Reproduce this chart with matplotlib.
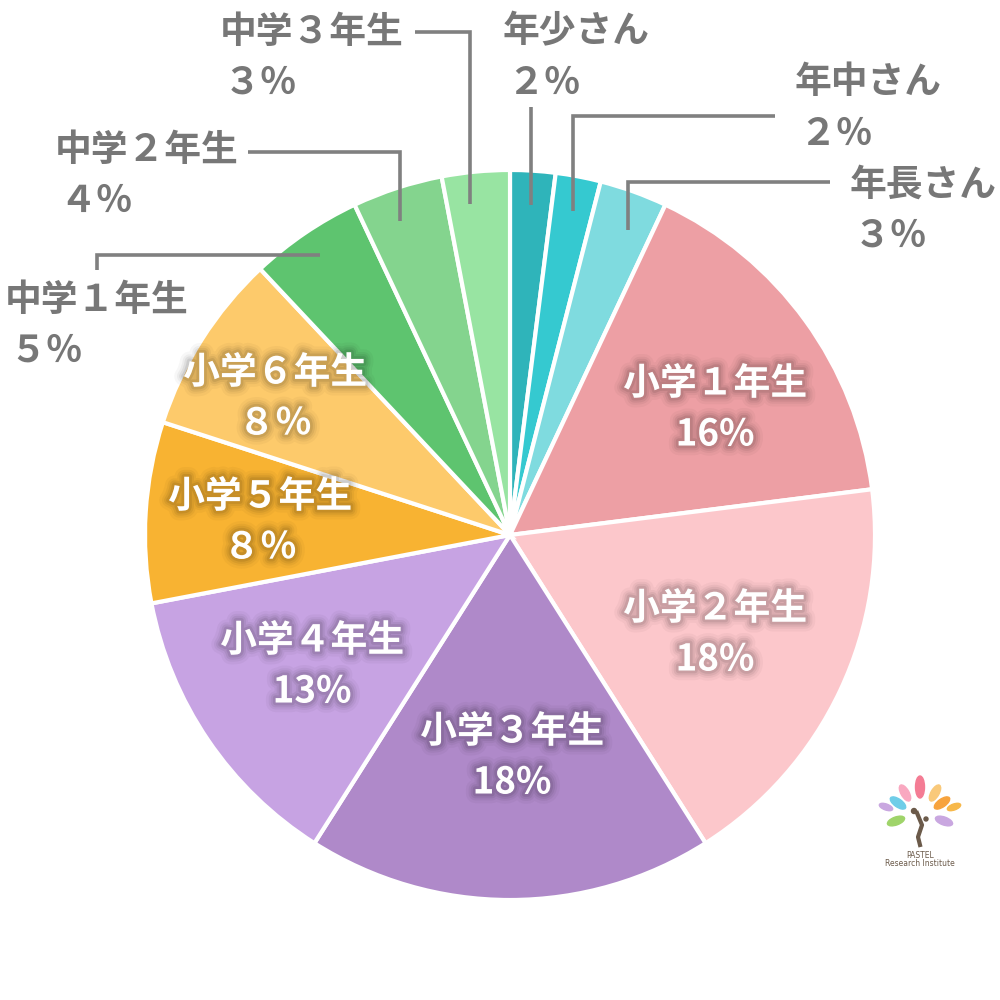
import matplotlib
matplotlib.use("Agg")
import matplotlib.pyplot as plt
import matplotlib.patheffects as pe
from matplotlib.patches import Ellipse
import numpy as np

plt.rcParams['font.family'] = ['Noto Sans CJK JP', 'DejaVu Sans']

# ---- data ----
categories = ["年少さん", "年中さん", "年長さん", "小学１年生", "小学２年生", "小学３年生",
              "小学４年生", "小学５年生", "小学６年生", "中学１年生", "中学２年生", "中学３年生"]
values = [2, 2, 3, 16, 18, 18, 13, 8, 8, 5, 4, 3]
pct_labels = ["２％", "２％", "３％", "16%", "18%", "18%", "13%", "８％", "８％", "５％", "４％", "３％"]
colors = ["#2fb4ba", "#35c9d0", "#7fdbdf", "#ed9fa4", "#fcc7cb", "#af89c9",
          "#c7a3e3", "#f8b332", "#fdca6b", "#5ec46f", "#84d48e", "#98e4a2"]

# ---- layout (pixel coordinates, y from top) ----
W = H = 1000
CX, CY, R = 510, 535, 365
FS = 26.5
inside_pos = {3: (715, 409), 4: (715, 634), 5: (512, 757), 6: (312, 666), 7: (260, 522), 8: (275, 398)}
outside_pos = {11: (220, 32), 0: (503, 32), 1: (795, 83), 2: (850, 185), 10: (55, 150), 9: (5, 300)}
leaders = {
    11: [(415, 32), (470, 32), (470, 204)],
    0: [(531, 107), (531, 205)],
    1: [(775, 116), (573, 116), (573, 211)],
    2: [(830, 182), (628, 182), (628, 230)],
    10: [(248, 152), (400, 152), (400, 221)],
    9: [(320, 255), (97, 255), (97, 270)],
}

fig = plt.figure(figsize=(10, 10), dpi=100)
ax = fig.add_axes([0, 0, 1, 1])

def Y(py):
    return H - py

ax.pie(values, colors=colors, startangle=90, counterclock=False,
       center=(CX, Y(CY)), radius=R,
       wedgeprops=dict(edgecolor='white', linewidth=3))
ax.set_xlim(0, W)
ax.set_ylim(0, H)
ax.set_aspect('equal')
ax.axis('off')

shadow = [pe.Stroke(linewidth=w, foreground='#000000', alpha=a) for w, a in
          [(14, 0.03), (10, 0.045), (7, 0.06), (4, 0.08)]] + [pe.Normal()]

gray = "#777777"
for i, (x, y) in inside_pos.items():
    ax.text(x, Y(y - 25), categories[i], ha='center', va='center', fontsize=FS,
            fontweight='bold', color='white', path_effects=shadow)
    ax.text(x, Y(y + 26), pct_labels[i], ha='center', va='center', fontsize=FS,
            fontweight='bold', color='white', path_effects=shadow)

for i, (x, y) in outside_pos.items():
    ax.text(x, Y(y), categories[i], ha='left', va='center', fontsize=FS,
            fontweight='bold', color=gray)
    ax.text(x + 4, Y(y + 51), pct_labels[i], ha='left', va='center', fontsize=FS,
            fontweight='bold', color=gray)

for i, pts in leaders.items():
    xs = [p[0] for p in pts]
    ys = [Y(p[1]) for p in pts]
    ax.plot(xs, ys, color="#808080", linewidth=2.6, solid_capstyle='butt',
            solid_joinstyle='miter')

# ---- logo (approximation) ----
lx, ly = 920, 815
leaves = [(0, -28, 9, 22, 0, "#f47c94"), (-15, -22, 8, 18, 30, "#f9a8c0"),
          (15, -22, 8, 18, -30, "#f9c97a"), (-22, -12, 8, 18, 55, "#6fcde8"),
          (22, -12, 8, 18, -55, "#f7a33d"), (-34, -8, 6, 14, 70, "#c9a7e0"),
          (34, -8, 6, 14, -70, "#f7b84a"), (-24, 6, 8, 18, 110, "#9fd46a"),
          (24, 6, 8, 18, -110, "#c9a7e0")]
for dx, dy, w, h, ang, c in leaves:
    ax.add_patch(Ellipse((lx + dx, Y(ly + dy)), w, h, angle=ang, color=c, zorder=3))
ax.plot([lx - 3, lx + 2, lx - 2, lx], [Y(ly - 2), Y(ly + 10), Y(ly + 22), Y(ly + 30)],
        color="#6b5a4a", linewidth=3, zorder=4)
ax.add_patch(Ellipse((lx - 6, Y(ly - 4)), 5, 5, color="#6b5a4a", zorder=4))
ax.add_patch(Ellipse((lx + 6, Y(ly + 4)), 4, 4, color="#6b5a4a", zorder=4))
ax.text(lx, Y(ly + 40), "PASTEL", ha='center', va='center', fontsize=5.5,
        color="#6b5a4a", family='DejaVu Sans')
ax.text(lx, Y(ly + 49), "Research Institute", ha='center', va='center', fontsize=5.5,
        color="#6b5a4a", family='DejaVu Sans')

fig.savefig("out.png", dpi=100, facecolor='white')
